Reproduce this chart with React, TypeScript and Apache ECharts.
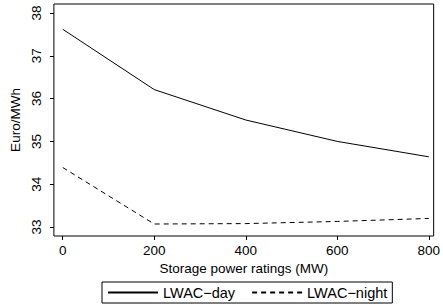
import React, { useEffect, useRef } from "react";
import * as echarts from "echarts";

const ratings = [0, 200, 400, 600, 800];
const lwacDay = [37.62, 36.21, 35.5, 35.0, 34.64];
const lwacNight = [34.39, 33.07, 33.08, 33.13, 33.2];
const xTicks = [0, 200, 400, 600, 800];
const yTicks = [33, 34, 35, 36, 37, 38];

const FONT = "Liberation Sans";

export default function App() {
  const ref = useRef<HTMLDivElement>(null);
  useEffect(() => {
    if (!ref.current) return;
    const chart = echarts.init(ref.current, undefined, { renderer: "svg" });
    chart.setOption({
      animation: false,
      backgroundColor: "#fff",
      textStyle: { fontFamily: FONT, color: "#000" },
      grid: {
        left: 51,
        right: 5,
        top: 4,
        bottom: 71,
        show: true,
        borderColor: "#000",
        borderWidth: 1,
        backgroundColor: "transparent",
      },
      xAxis: {
        type: "value",
        min: -19.3,
        max: 810.7,
        name: "Storage power ratings (MW)",
        nameLocation: "middle",
        nameGap: 22,
        nameTextStyle: { fontFamily: FONT, fontSize: 13.5, color: "#000" },
        axisLine: { show: false, onZero: false },
        splitLine: { show: false },
        axisTick: {
          show: true,
          length: 4,
          lineStyle: { color: "#000", width: 1 },
          customValues: xTicks,
        },
        axisLabel: {
          fontFamily: FONT,
          fontSize: 13.5,
          color: "#000",
          margin: 7,
          customValues: xTicks,
          showMinLabel: true,
          showMaxLabel: true,
        },
      },
      yAxis: {
        type: "value",
        min: 32.79,
        max: 38.21,
        name: "Euro/MWh",
        nameLocation: "middle",
        nameGap: 26,
        nameRotate: 90,
        nameTextStyle: { fontFamily: FONT, fontSize: 13.5, color: "#000" },
        axisLine: { show: false, onZero: false },
        splitLine: { show: false },
        axisTick: {
          show: true,
          length: 4,
          lineStyle: { color: "#000", width: 1 },
          customValues: yTicks,
        },
        axisLabel: {
          fontFamily: FONT,
          fontSize: 13.5,
          color: "#000",
          rotate: 90,
          align: "center",
          verticalAlign: "bottom",
          margin: 10,
          customValues: yTicks,
          showMinLabel: true,
          showMaxLabel: true,
        },
      },
      legend: {
        left: 102,
        top: 282,
        orient: "horizontal",
        borderColor: "#000",
        borderWidth: 1,
        borderRadius: 0,
        padding: [3, 5, 3, 5],
        itemGap: 16,
        itemWidth: 50,
        itemHeight: 10,
        itemStyle: { opacity: 0 },
        textStyle: { fontFamily: FONT, fontSize: 14.5, color: "#000" },
        data: ["LWAC\u2212day", "LWAC\u2212night"],
      },
      series: [
        {
          name: "LWAC\u2212day",
          type: "line",
          data: ratings.map((r, i) => [r, lwacDay[i]]),
          symbol: "none",
          lineStyle: { color: "#000", width: 1 },
          itemStyle: { color: "#000" },
        },
        {
          name: "LWAC\u2212night",
          type: "line",
          data: ratings.map((r, i) => [r, lwacNight[i]]),
          symbol: "none",
          lineStyle: { color: "#000", width: 1, type: [5, 4] },
          itemStyle: { color: "#000" },
        },
      ],
    });
    return () => chart.dispose();
  }, []);
  return <div ref={ref} style={{ width: 443, height: 307, position: "absolute", left: 0, top: 0 }} />;
}
